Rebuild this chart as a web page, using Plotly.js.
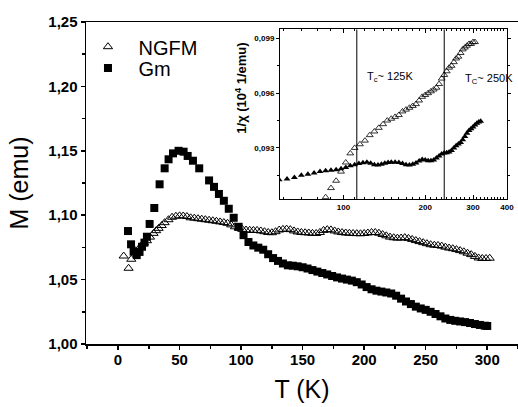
<!DOCTYPE html>
<html>
<head>
<meta charset="utf-8">
<script src="https://cdn.plot.ly/plotly-3.0.1.min.js"></script>
<style>html,body{margin:0;padding:0;background:#fff;}#chart{width:518px;height:407px;}</style>
</head>
<body>
<div id="chart"></div>
<script>
// ---------- Main panel data: M (emu) vs T (K) ----------
var ngfmT = [4.6, 8.6, 10.8, 14.1, 18.1, 21, 23.5, 26, 28.9, 31, 33, 35.5, 37.9, 41, 43.9, 47,
  50, 53, 56, 59, 62, 65, 68, 71, 74, 77, 80, 83, 86, 89, 92, 95, 98, 101, 104, 107, 110, 113,
  116, 119, 122, 125, 128, 131, 134, 137, 140, 143, 146, 149, 152, 155, 158, 161, 164, 167, 170,
  173, 176, 179, 182, 185, 188, 191, 194, 197, 200, 203, 206, 209, 212, 215, 218, 221, 224, 227,
  230, 233, 236, 239, 242, 245, 248, 251, 254, 257, 260, 263, 266, 269, 272, 275, 278, 281, 284,
  287, 290, 293, 296, 299, 302];
var ngfmM = [1.0683, 1.0588, 1.0658, 1.0724, 1.0755, 1.0785, 1.0802, 1.0830, 1.0859, 1.0880, 1.0898, 1.0920, 1.0942, 1.0965, 1.0984, 1.0992,
  1.0995, 1.0994, 1.0990, 1.0980, 1.0977, 1.0973, 1.0969, 1.0965, 1.0961, 1.0957, 1.0953, 1.0948, 1.0943, 1.0937, 1.0925, 1.0910, 1.0900, 1.0890, 1.0885, 1.0883, 1.0882, 1.0882,
  1.0878, 1.0872, 1.0866, 1.0864, 1.0872, 1.0885, 1.0890, 1.0892, 1.0888, 1.0878, 1.0870, 1.0866, 1.0864, 1.0862, 1.0859, 1.0858, 1.0866, 1.0882, 1.0888,
  1.0886, 1.0878, 1.0870, 1.0865, 1.0862, 1.0860, 1.0858, 1.0857, 1.0856, 1.0858, 1.0862, 1.0866, 1.0866, 1.0860, 1.0850, 1.0840, 1.0830, 1.0825, 1.0822,
  1.0823, 1.0826, 1.0820, 1.0812, 1.0803, 1.0795, 1.0787, 1.0779, 1.0771, 1.0767, 1.0765, 1.0760, 1.0752, 1.0745, 1.0740, 1.0733, 1.0725, 1.0716, 1.0705,
  1.0694, 1.0680, 1.0668, 1.0664, 1.0664, 1.0666];

var gmT = [8.1, 10.6, 12.7, 15.2, 17.5, 19.5, 21.5, 23.5, 25.7, 29.5, 33.8, 37.9, 41.1, 44.7, 49.2, 53.3, 56.6, 60.9, 66,
  74, 78, 82, 86, 90, 94, 98, 102, 106, 110, 114, 118, 122, 126, 130, 134, 138, 142, 146, 150, 154, 158, 162, 166,
  170, 174, 178, 182, 186, 190, 194, 198, 202, 206, 210, 214, 218, 222, 226, 230, 234, 238, 242, 246, 250, 254, 258,
  262, 266, 270, 274, 278, 282, 286, 290, 294, 298, 300];
var gmM = [1.0877, 1.0774, 1.0717, 1.0690, 1.0715, 1.0755, 1.0787, 1.0833, 1.0932, 1.1056, 1.1240, 1.1364, 1.1434, 1.1480, 1.1500, 1.1493, 1.1460, 1.1423, 1.1364,
  1.1270, 1.1220, 1.1165, 1.1112, 1.1050, 1.0980, 1.0910, 1.0845, 1.0792, 1.0765, 1.0748, 1.0732, 1.0697, 1.0667, 1.0645, 1.0625, 1.0611, 1.0608, 1.0603, 1.0596, 1.0586, 1.0574, 1.0562, 1.0551,
  1.0540, 1.0528, 1.0517, 1.0508, 1.0500, 1.0492, 1.0480, 1.0462, 1.0442, 1.0425, 1.0414, 1.0407, 1.0400, 1.0392, 1.0375, 1.0352, 1.0330, 1.0310, 1.0290, 1.0276, 1.0265, 1.0250, 1.0233,
  1.0215, 1.0198, 1.0187, 1.0180, 1.0175, 1.0170, 1.0163, 1.0155, 1.0148, 1.0142, 1.0140];

// ---------- Inset data: 1/chi vs T (log T axis) ----------
var insNgfmT = [86, 90, 94, 98, 102, 106, 110, 115, 120, 125, 130, 135, 140, 145, 150, 155, 160, 165, 170, 175,
  180, 185, 190, 195, 200, 205, 210, 215, 220, 225, 230, 235, 240, 245, 250, 255, 260, 265, 270, 275, 280, 285,
  290, 295, 300, 305];
var insNgfmV = [0.0903, 0.0908, 0.0912, 0.0917, 0.0922, 0.0927, 0.0930, 0.0932, 0.0934, 0.0937, 0.0939, 0.0941, 0.0943, 0.0945, 0.0946, 0.0947, 0.0948, 0.0950, 0.0951, 0.0952,
  0.0953, 0.0954, 0.0956, 0.0958, 0.0959, 0.0960, 0.0961, 0.0962, 0.0963, 0.0965, 0.0968, 0.0970, 0.0972, 0.0974, 0.0975, 0.0977, 0.0979, 0.0980, 0.0982, 0.0984, 0.0985, 0.0986,
  0.0987, 0.0987, 0.0988, 0.0988];

var insGmT = [58, 62, 66, 70, 74, 78, 82, 86, 90, 94, 98, 102, 106, 110, 114, 118, 122, 126, 130, 134, 138, 142,
  146, 150, 155, 160, 165, 170, 175, 180, 185, 190, 195, 200, 205, 210, 215, 220, 225, 230, 235, 240, 245, 250,
  255, 260, 265, 270, 275, 280, 285, 290, 295, 300, 305, 310, 315, 320];
var insGmV = [0.09126, 0.09130, 0.09138, 0.09150, 0.09156, 0.09163, 0.09171, 0.09175, 0.09178, 0.09181, 0.09186, 0.09193, 0.09202, 0.09208, 0.09214, 0.09219, 0.09221, 0.09216, 0.09208, 0.09206, 0.09210, 0.09216,
  0.09220, 0.09222, 0.09222, 0.09220, 0.09214, 0.09208, 0.09206, 0.09210, 0.09218, 0.09228, 0.09236, 0.09234, 0.09230, 0.09230, 0.09234, 0.09245, 0.09256, 0.09266, 0.09272, 0.09274, 0.09278, 0.09286,
  0.09300, 0.09312, 0.09322, 0.09330, 0.09345, 0.09362, 0.09380, 0.09395, 0.09405, 0.09415, 0.09425, 0.09435, 0.09442, 0.09446];

// transition temperature marker lines in the inset (K)
var tcLineT = [112, 235];

// ---------- Axis ticks ----------
var mainXTicks = [0, 50, 100, 150, 200, 250, 300];
var mainYTicks = [1.00, 1.05, 1.10, 1.15, 1.20, 1.25];
var insXTicks = [100, 200, 300, 400];
var insXMinor = [60, 70, 80, 90, 110, 120, 130, 140, 150, 160, 170, 180, 190, 210, 220, 230, 240, 250, 260, 270, 280, 290,
  310, 320, 330, 340, 350, 360, 370, 380, 390];
var insYTicks = [0.093, 0.096, 0.099];

function comma(v, d) { return '<b>' + v.toFixed(d).replace('.', ',') + '</b>'; }

var FONT = 'Liberation Sans, Arial, sans-serif';
var xRange = [-26, 325];
var yRange = [1.0, 1.25];
var insXRange = [58.4, 400];
var insYRange = [0.0902, 0.0995];

var traces = [
  {x: ngfmT, y: ngfmM, name: '\u00A0NGFM', legend: 'legend', type: 'scatter', mode: 'markers', xaxis: 'x', yaxis: 'y',
   marker: {symbol: 'triangle-up-open', size: 8, color: '#000', line: {width: 1, color: '#000'}}},
  {x: gmT, y: gmM, name: '\u00A0Gm', legend: 'legend2', type: 'scatter', mode: 'markers', xaxis: 'x', yaxis: 'y',
   marker: {symbol: 'square', size: 8, color: '#000'}},
  {x: insNgfmT, y: insNgfmV, name: 'NGFM inset', showlegend: false, type: 'scatter', mode: 'markers', xaxis: 'x2', yaxis: 'y2',
   marker: {symbol: 'triangle-up-open', size: 6, color: '#000', line: {width: 0.8, color: '#000'}}},
  {x: insGmT, y: insGmV, name: 'Gm inset', showlegend: false, type: 'scatter', mode: 'markers', xaxis: 'x2', yaxis: 'y2',
   marker: {symbol: 'triangle-up', size: 6, color: '#000'}}
];
tcLineT.forEach(function (t) {
  traces.push({x: [t, t], y: insYRange, type: 'scatter', mode: 'lines', showlegend: false, hoverinfo: 'skip',
    xaxis: 'x2', yaxis: 'y2', line: {color: '#000', width: 1}});
});

var tickFontMain = {family: FONT, size: 15, color: '#000', weight: 'bold'};
var tickFontIns = {family: FONT, size: 8, color: '#000', weight: 'bold'};
var legendFont = {family: FONT, size: 20, color: '#000'};

var layout = {
  width: 518, height: 407,
  margin: {l: 86, r: 0, t: 22, b: 63, pad: 0},
  paper_bgcolor: '#fff', plot_bgcolor: 'rgba(0,0,0,0)',
  separators: ',.',
  font: {family: FONT, color: '#000'},
  showlegend: true,
  legend: {x: -0.007, y: 0.9233, xanchor: 'left', yanchor: 'middle', bgcolor: 'rgba(0,0,0,0)',
    font: legendFont, itemwidth: 40, itemclick: false},
  legend2: {x: -0.007, y: 0.857, xanchor: 'left', yanchor: 'middle', bgcolor: 'rgba(0,0,0,0)',
    font: legendFont, itemwidth: 40, itemclick: false},
  xaxis: {domain: [0, 1], anchor: 'y', range: xRange, tickmode: 'array', tickvals: mainXTicks,
    ticktext: mainXTicks.map(function (v) { return '<b>' + v + '</b>'; }),
    ticks: 'outside', ticklen: 4, tickwidth: 1.5, tickcolor: '#000', ticklabelstandoff: -3,
    minor: {dtick: 25, tick0: 0, ticks: 'outside', ticklen: 3, tickwidth: 1.5, tickcolor: '#000'},
    showline: true, linewidth: 1.5, linecolor: '#000', mirror: true, showgrid: false, zeroline: false,
    tickfont: tickFontMain,
    title: {text: 'T (K)', font: {family: FONT, size: 25, color: '#000'}, standoff: 14}},
  yaxis: {domain: [0, 1], anchor: 'x', range: yRange, tickmode: 'array', tickvals: mainYTicks,
    ticktext: mainYTicks.map(function (v) { return comma(v, 2); }),
    ticks: 'outside', ticklen: 4, tickwidth: 1.5, tickcolor: '#000',
    minor: {dtick: 0.025, tick0: 1.0, ticks: 'outside', ticklen: 3, tickwidth: 1.5, tickcolor: '#000'},
    showline: true, linewidth: 1.5, linecolor: '#000', mirror: true, showgrid: false, zeroline: false,
    tickfont: tickFontMain,
    title: {text: 'M (emu)', font: {family: FONT, size: 25, color: '#000'}, standoff: 12}},
  xaxis3: {overlaying: 'x', side: 'top', anchor: 'y', range: xRange, tickmode: 'array', tickvals: mainXTicks,
    ticks: 'inside', ticklen: 5, tickwidth: 1.5, tickcolor: '#000', showticklabels: false,
    minor: {dtick: 25, tick0: 0, ticks: 'inside', ticklen: 3, tickwidth: 1.5, tickcolor: '#000'},
    showline: false, showgrid: false, zeroline: false},
  yaxis3: {overlaying: 'y', side: 'right', anchor: 'x', range: yRange, tickmode: 'array', tickvals: mainYTicks,
    ticks: 'inside', ticklen: 5, tickwidth: 1.5, tickcolor: '#000', showticklabels: false,
    minor: {dtick: 0.025, tick0: 1.0, ticks: 'inside', ticklen: 3, tickwidth: 1.5, tickcolor: '#000'},
    showline: false, showgrid: false, zeroline: false},
  xaxis2: {domain: [0.449, 0.9745], anchor: 'y2', type: 'log',
    range: [Math.log10(insXRange[0]), Math.log10(insXRange[1])],
    tickmode: 'array', tickvals: insXTicks, ticktext: insXTicks.map(function (v) { return '<b>' + v + '</b>'; }),
    ticks: 'inside', ticklen: 4, tickwidth: 1, tickcolor: '#000',
    minor: {tickmode: 'array', tickvals: insXMinor, ticks: 'inside', ticklen: 2, tickwidth: 1, tickcolor: '#000'},
    showline: true, linewidth: 1, linecolor: '#000', mirror: 'ticks', showgrid: false, zeroline: false,
    tickfont: tickFontIns},
  yaxis2: {domain: [0.4503, 0.9773], anchor: 'x2', range: insYRange, tickmode: 'array', tickvals: insYTicks,
    ticktext: insYTicks.map(function (v) { return comma(v, 3); }),
    ticks: 'outside', ticklen: 3, tickwidth: 1, tickcolor: '#000',
    minor: {dtick: 0.0015, tick0: 0.093, ticks: 'outside', ticklen: 2, tickwidth: 1, tickcolor: '#000'},
    showline: true, linewidth: 1, linecolor: '#000', mirror: 'ticks', showgrid: false, zeroline: false,
    tickfont: tickFontIns},
  annotations: [
    {xref: 'paper', yref: 'paper', x: 0.358, y: 0.795, xanchor: 'center', yanchor: 'middle', textangle: -90,
     showarrow: false, text: '<b>1/χ (10<sup>4</sup> 1/emu)</b>', font: {family: FONT, size: 13, color: '#000'}},
    {xref: 'x2', yref: 'y2', x: Math.log10(120.2), y: 0.09688, xanchor: 'left', yanchor: 'middle', showarrow: false,
     text: 'T<sub>c</sub>~ 125K', font: {family: FONT, size: 11, color: '#000'}},
    {xref: 'x2', yref: 'y2', x: Math.log10(275.5), y: 0.09675, xanchor: 'left', yanchor: 'middle', showarrow: false,
     text: 'T<sub>C</sub>~ 250K', font: {family: FONT, size: 11, color: '#000'}}
  ]
};

Plotly.newPlot('chart', traces, layout, {displayModeBar: false, staticPlot: true});
</script>
</body>
</html>
